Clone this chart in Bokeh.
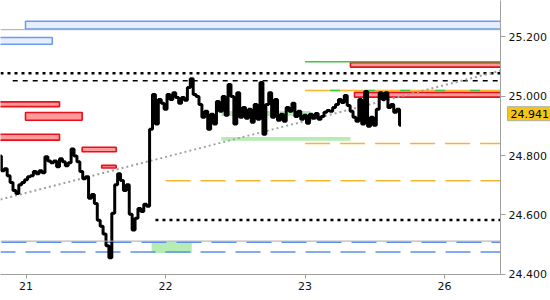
from bokeh.plotting import figure
from bokeh.models import Range1d, FixedTicker, NumeralTickFormatter, Span, Label
from bokeh.embed import file_html
from bokeh.resources import INLINE

# ---- data ----
# price path, 30-minute steps (hours from midnight of day "21", weekend removed)
t_start = -4.5
t_step = 0.5
prices = [
    24.799, 24.749, 24.756, 24.732, 24.709, 24.682, 24.672, 24.702, 24.709, 24.719,
    24.729, 24.732, 24.746, 24.739, 24.749, 24.742, 24.796, 24.782, 24.776, 24.782,
    24.762, 24.789, 24.779, 24.766, 24.776, 24.822, 24.799, 24.779, 24.746, 24.722,
    24.729, 24.656, 24.669, 24.639, 24.582, 24.562, 24.536, 24.496, 24.456, 24.606,
    24.702, 24.739, 24.716, 24.682, 24.702, 24.602, 24.549, 24.589, 24.622, 24.612,
    24.636, 24.629, 24.889, 25.006, 24.906, 24.989, 24.976, 24.956, 25.006, 24.989,
    25.012, 24.996, 24.976, 24.996, 24.986, 25.029, 25.059, 25.006, 24.999, 24.972,
    24.929, 24.949, 24.889, 24.939, 24.906, 24.982, 24.949, 24.999, 24.936, 25.039,
    24.999, 24.906, 25.012, 24.929, 24.962, 24.926, 24.956, 24.912, 24.972, 24.922,
    25.046, 24.872, 24.972, 25.012, 24.929, 24.989, 24.919, 24.939, 24.916, 24.962,
    24.949, 24.976, 24.932, 24.949, 24.922, 24.936, 24.909, 24.939, 24.926, 24.942,
    24.922, 24.932, 24.946, 24.952, 24.949, 24.962, 24.972, 24.989, 24.979, 25.002,
    24.969, 24.949, 24.929, 24.916, 24.989, 24.906, 25.016, 24.899, 24.929, 24.902,
    24.956, 25.012, 24.989, 25.012, 24.962, 24.972, 24.946, 24.956, 24.902,
]
times = [t_start + t_step * i for i in range(len(prices))]
last_price = 24.941
last_price_text = "24.941"

day_ticks = [0, 24, 48, 72]
day_labels = ["21", "22", "23", "26"]
price_ticks = [24.4, 24.6, 24.8, 25.0, 25.2]

# zones: left, right (hours), bottom, top (price)
blue_left = [-0.1, -6.0]
blue_right = [90.0, 4.5]
blue_bottom = [25.226, 25.175]
blue_top = [25.252, 25.198]

red_left = [-6.0, -0.1, -6.0, 9.65, 13.0, 55.8, 56.5]
red_right = [5.75, 9.65, 5.75, 15.5, 15.5, 90.0, 90.0]
red_bottom = [24.965, 24.919, 24.852, 24.813, 24.758, 25.098, 24.997]
red_top = [24.981, 24.945, 24.872, 24.828, 24.767, 25.113, 25.013]

green_left = [33.6, 33.6, 21.6]
green_right = [55.8, 48.9, 28.5]
green_bottom = [24.850, 24.933, 24.472]
green_top = [24.863, 24.950, 24.511]

# horizontal levels: price, start hour
gray_levels = [25.224, 24.512]
black_dot_levels = [25.077, 24.583]
black_dot_start = [-4.40, 22.26]
black_dash_level = 25.052
black_dash_start = -2.3
green_level = 25.116
orange_solid_level = 25.019
orange_dash_levels = [24.841, 24.715]
orange_dash_start = [48.0, 24.0]
blue_dash_levels = [24.508, 24.475]
level_start_23 = 48.0
trend_t = [-4.40, 81.62]
trend_p = [24.652, 25.086]

X_END = 90.0

# ---- figure ----
p = figure(frame_width=500, frame_height=274,
           x_range=Range1d(-4.40, 81.62), y_range=Range1d(24.3995, 25.3223),
           y_axis_location="right", output_backend="svg", toolbar_location=None,
           min_border_left=0, min_border_top=0, min_border_right=0, min_border_bottom=26)
p.xgrid.visible = False
p.ygrid.visible = False
p.outline_line_color = None
p.background_fill_color = "white"

AX = "#a0a0a0"
FONT = "DejaVu Sans"
for ax in (p.xaxis[0], p.yaxis[0]):
    ax.axis_line_color = AX
    ax.major_tick_line_color = AX
    ax.minor_tick_line_color = None
    ax.major_tick_in = 0
    ax.major_label_text_font = FONT
    ax.major_label_text_font_size = "11px"
    ax.major_label_text_color = "#111111"
    ax.major_label_standoff = 3

p.yaxis.ticker = FixedTicker(ticks=price_ticks)
p.yaxis.formatter = NumeralTickFormatter(format="0.000")
p.yaxis.major_tick_out = 5
p.xaxis.ticker = FixedTicker(ticks=day_ticks)
p.xaxis.major_label_overrides = {t: l for t, l in zip(day_ticks, day_labels)}
p.xaxis.major_tick_out = 4

# gray reference lines
for lv in gray_levels:
    p.add_layout(Span(location=lv, dimension="width", line_color="#a8a8a8", line_width=1))

# zones
p.quad(left=green_left, right=green_right, bottom=green_bottom, top=green_top,
       fill_color="#b4ecb4", line_color=None)
p.quad(left=blue_left, right=blue_right, bottom=blue_bottom, top=blue_top,
       fill_color="#e6eefd", line_color="#6b9bef", line_width=1.5)
p.quad(left=red_left, right=red_right, bottom=red_bottom, top=red_top,
       fill_color="#ff9a9a", line_color="#e8101a", line_width=1.6)

# level lines
for lv, st in zip(black_dot_levels, black_dot_start):
    p.line([st, X_END], [lv, lv], line_color="black", line_width=2.5, line_dash="3 4")
p.line([black_dash_start, X_END], [black_dash_level] * 2, line_color="black",
       line_width=1.5, line_dash="5 5")
p.line([level_start_23, X_END], [green_level] * 2, line_color="#3fc63f", line_width=1.5)
p.line([level_start_23, X_END], [orange_solid_level] * 2, line_color="#f5b52e", line_width=1.5)
p.line([level_start_23, X_END], [orange_solid_level] * 2, line_color="#3fc63f",
       line_width=1.5, line_dash="10 25", line_dash_offset=10)
for lv, st in zip(orange_dash_levels, orange_dash_start):
    p.line([st, X_END], [lv, lv], line_color="#f5b52e", line_width=1.5, line_dash="25 10")
p.line([-4.40, X_END], [blue_dash_levels[0]] * 2, line_color="#5b8ff0",
       line_width=1.5, line_dash="25 10", line_dash_offset=-1)
p.line([-4.40, X_END], [blue_dash_levels[1]] * 2, line_color="#5b8ff0",
       line_width=1.5, line_dash="25 10", line_dash_offset=10)

# trend line
p.line(trend_t, trend_p, line_color="#a0a0a0", line_width=2, line_dash="2 3")

# price
p.step(times, prices, mode="center", line_color="black", line_width=3)

# last price tag: sits in a panel after the price axis, shifted back over the axis
tag = Label(x=-42, x_units="screen", y=last_price, text=last_price_text,
            text_font=FONT, text_font_size="11px", text_color="black",
            text_baseline="middle", text_align="left",
            background_fill_color="#f7c519", border_line_color="#b0b0b0",
            padding=3)
p.add_layout(tag, "right")

open("out.html", "w").write(file_html(p, INLINE))
